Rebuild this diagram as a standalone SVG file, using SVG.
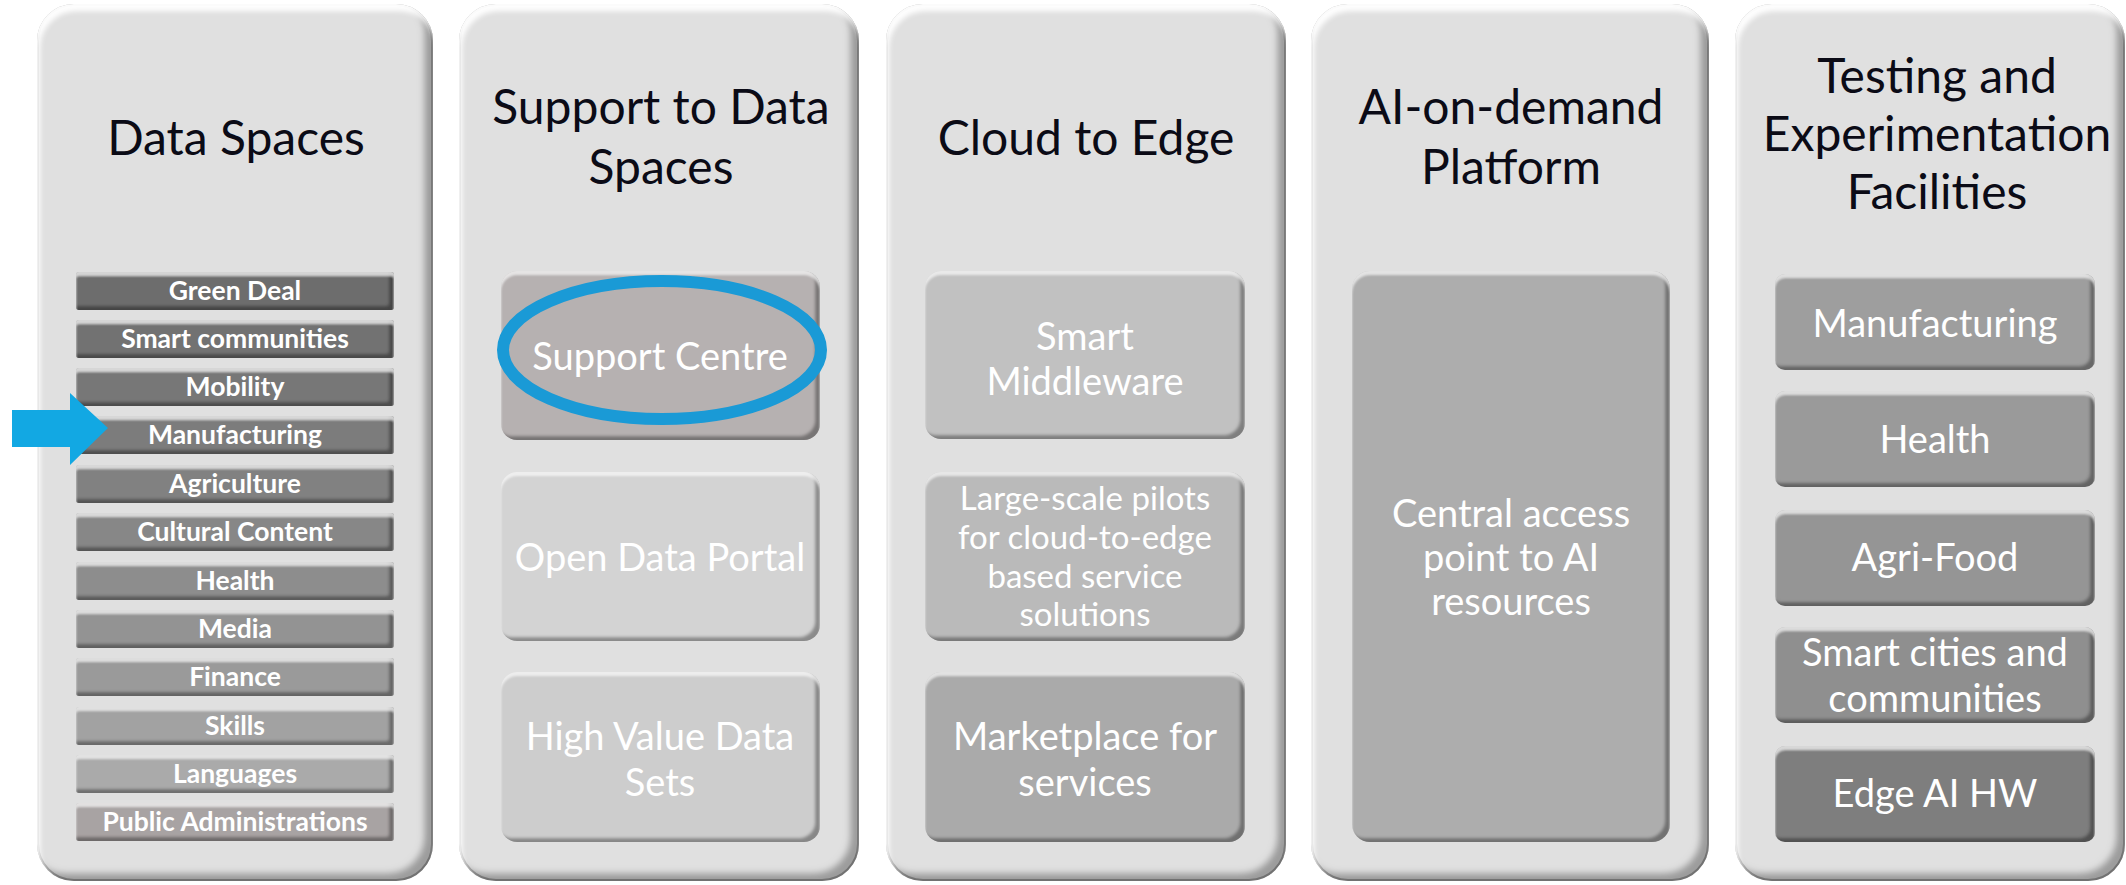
<svg xmlns="http://www.w3.org/2000/svg" width="2126" height="885" viewBox="0 0 2126 885">
<style>
.title{font-family:Lato,"Open Sans",sans-serif;font-size:48px;fill:#0b0b16;text-anchor:middle}
.bt{font-family:Lato,"Open Sans",sans-serif;font-size:38px;fill:#ffffff;text-anchor:middle}
.bs{font-family:Lato,"Open Sans",sans-serif;font-size:33px;fill:#ffffff;text-anchor:middle}
.it{font-family:Lato,"Open Sans",sans-serif;font-size:26.5px;font-weight:bold;fill:#ffffff;text-anchor:middle}
.panel{fill:#e0e0e0;stroke:#a4a4a4;stroke-width:2;filter:url(#pbevel)}
.box{filter:url(#bevel)}
</style>
<defs>
<filter id="pbevel" x="-5%" y="-5%" width="110%" height="110%">
<feOffset in="SourceAlpha" dx="-9" dy="-8" result="o1"/>
<feGaussianBlur in="o1" stdDeviation="3" result="b1"/>
<feComposite in="SourceAlpha" in2="b1" operator="out" result="e1"/>
<feFlood flood-color="#000" flood-opacity="0.55"/>
<feComposite in2="e1" operator="in" result="sh"/>
<feOffset in="SourceAlpha" dx="3" dy="7" result="o2"/>
<feGaussianBlur in="o2" stdDeviation="2.5" result="b2"/>
<feComposite in="SourceAlpha" in2="b2" operator="out" result="e2"/>
<feFlood flood-color="#fff" flood-opacity="0.95"/>
<feComposite in2="e2" operator="in" result="hl"/>
<feMerge><feMergeNode in="SourceGraphic"/><feMergeNode in="sh"/><feMergeNode in="hl"/></feMerge>
</filter>
<filter id="bevel" x="-5%" y="-10%" width="110%" height="120%">
<feOffset in="SourceAlpha" dx="-5" dy="-4" result="o1"/>
<feGaussianBlur in="o1" stdDeviation="1.5" result="b1"/>
<feComposite in="SourceAlpha" in2="b1" operator="out" result="e1"/>
<feFlood flood-color="#000" flood-opacity="0.6"/>
<feComposite in2="e1" operator="in" result="sh"/>
<feOffset in="SourceAlpha" dx="0" dy="4" result="o2"/>
<feGaussianBlur in="o2" stdDeviation="1" result="b2"/>
<feComposite in="SourceAlpha" in2="b2" operator="out" result="e2"/>
<feFlood flood-color="#fff" flood-opacity="0.6"/>
<feComposite in2="e2" operator="in" result="hl"/>
<feMerge><feMergeNode in="SourceGraphic"/><feMergeNode in="sh"/><feMergeNode in="hl"/></feMerge>
</filter>
</defs>
<rect width="2126" height="885" fill="#ffffff"/>

<g id="data-spaces">
<rect class="panel" x="38" y="5" width="394" height="875" rx="36"/>
<text class="title" x="236" y="155">Data Spaces</text>
<g id="ds-green-deal"><rect class="box" x="76" y="272" width="318" height="38" rx="3" fill="#6d6d6d"/><text class="it" x="235" y="300">Green Deal</text></g>
<g id="ds-smart-communities"><rect class="box" x="76" y="320" width="318" height="38" rx="3" fill="#727272"/><text class="it" x="235" y="348">Smart communities</text></g>
<g id="ds-mobility"><rect class="box" x="76" y="368" width="318" height="38" rx="3" fill="#777777"/><text class="it" x="235" y="396">Mobility</text></g>
<g id="ds-manufacturing"><rect class="box" x="76" y="416" width="318" height="38" rx="3" fill="#7c7c7c"/><text class="it" x="235" y="444">Manufacturing</text></g>
<g id="ds-agriculture"><rect class="box" x="76" y="465" width="318" height="38" rx="3" fill="#818181"/><text class="it" x="235" y="493">Agriculture</text></g>
<g id="ds-cultural"><rect class="box" x="76" y="513" width="318" height="38" rx="3" fill="#878787"/><text class="it" x="235" y="541">Cultural Content</text></g>
<g id="ds-health"><rect class="box" x="76" y="562" width="318" height="38" rx="3" fill="#8d8d8d"/><text class="it" x="235" y="590">Health</text></g>
<g id="ds-media"><rect class="box" x="76" y="610" width="318" height="38" rx="3" fill="#939393"/><text class="it" x="235" y="638">Media</text></g>
<g id="ds-finance"><rect class="box" x="76" y="658" width="318" height="38" rx="3" fill="#9a9a9a"/><text class="it" x="235" y="686">Finance</text></g>
<g id="ds-skills"><rect class="box" x="76" y="707" width="318" height="38" rx="3" fill="#a2a2a2"/><text class="it" x="235" y="735">Skills</text></g>
<g id="ds-languages"><rect class="box" x="76" y="755" width="318" height="38" rx="3" fill="#aaaaaa"/><text class="it" x="235" y="783">Languages</text></g>
<g id="ds-public"><rect class="box" x="76" y="803" width="318" height="38" rx="3" fill="#a8a3a3"/><text class="it" x="235" y="831">Public Administrations</text></g>
</g>

<g id="support-data-spaces">
<rect class="panel" x="460" y="5" width="398" height="875" rx="36"/>
<text class="title" x="661" y="124">Support to Data</text>
<text class="title" x="661" y="184">Spaces</text>
<g id="support-centre"><rect class="box" x="501" y="271" width="319" height="169" rx="16" fill="#b6b1b1"/><text class="bt" x="660" y="370">Support Centre</text></g>
<g id="open-data-portal"><rect class="box" x="501" y="472" width="319" height="169" rx="16" fill="#d3d3d3"/><text class="bt" x="660" y="571">Open Data Portal</text></g>
<g id="high-value"><rect class="box" x="501" y="672" width="319" height="170" rx="16" fill="#cdcdcd"/><text class="bt" x="660" y="750">High Value Data</text><text class="bt" x="660" y="796">Sets</text></g>
</g>

<g id="cloud-to-edge">
<rect class="panel" x="887" y="5" width="398" height="875" rx="36"/>
<text class="title" x="1086" y="155">Cloud to Edge</text>
<g id="smart-middleware"><rect class="box" x="925" y="271" width="320" height="168" rx="16" fill="#c1c1c1"/><text class="bt" x="1085" y="350">Smart</text><text class="bt" x="1085" y="395">Middleware</text></g>
<g id="large-scale"><rect class="box" x="925" y="472" width="320" height="169" rx="16" fill="#bababa"/><text class="bs" x="1085" y="510">Large-scale pilots</text><text class="bs" x="1085" y="549">for cloud-to-edge</text><text class="bs" x="1085" y="588">based service</text><text class="bs" x="1085" y="626">solutions</text></g>
<g id="marketplace"><rect class="box" x="925" y="672" width="320" height="170" rx="16" fill="#aaaaaa"/><text class="bt" x="1085" y="750">Marketplace for</text><text class="bt" x="1085" y="796">services</text></g>
</g>

<g id="ai-on-demand">
<rect class="panel" x="1312" y="5" width="396" height="875" rx="36"/>
<text class="title" x="1511" y="124">AI-on-demand</text>
<text class="title" x="1511" y="184">Platform</text>
<g id="central-access"><rect class="box" x="1352" y="271" width="318" height="571" rx="18" fill="#adadad"/><text class="bt" x="1511" y="527">Central access</text><text class="bt" x="1511" y="571">point to AI</text><text class="bt" x="1511" y="615">resources</text></g>
</g>

<g id="tef">
<rect class="panel" x="1736" y="5" width="388" height="875" rx="36"/>
<text class="title" x="1937" y="93">Testing and</text>
<text class="title" x="1937" y="151">Experimentation</text>
<text class="title" x="1937" y="209">Facilities</text>
<g id="tef-manufacturing"><rect class="box" x="1775" y="274" width="320" height="96" rx="10" fill="#9e9e9e"/><text class="bt" x="1935" y="337">Manufacturing</text></g>
<g id="tef-health"><rect class="box" x="1775" y="391" width="320" height="96" rx="10" fill="#9a9a9a"/><text class="bt" x="1935" y="453">Health</text></g>
<g id="tef-agrifood"><rect class="box" x="1775" y="510" width="320" height="96" rx="10" fill="#959595"/><text class="bt" x="1935" y="571">Agri-Food</text></g>
<g id="tef-smart-cities"><rect class="box" x="1775" y="627" width="320" height="96" rx="10" fill="#8f8f8f"/><text class="bt" x="1935" y="666">Smart cities and</text><text class="bt" x="1935" y="712">communities</text></g>
<g id="tef-edge"><rect class="box" x="1775" y="746" width="320" height="96" rx="10" fill="#7e7e7e"/><text class="bt" x="1935" y="807">Edge AI HW</text></g>
</g>

<g id="connectors">
<ellipse cx="662" cy="350" rx="159" ry="69" fill="none" stroke="#1a9ad6" stroke-width="12"/>
<polygon points="12,410 70,410 70,393 108,428 70,465 70,447 12,447" fill="#12a8e3"/>
</g>
</svg>
